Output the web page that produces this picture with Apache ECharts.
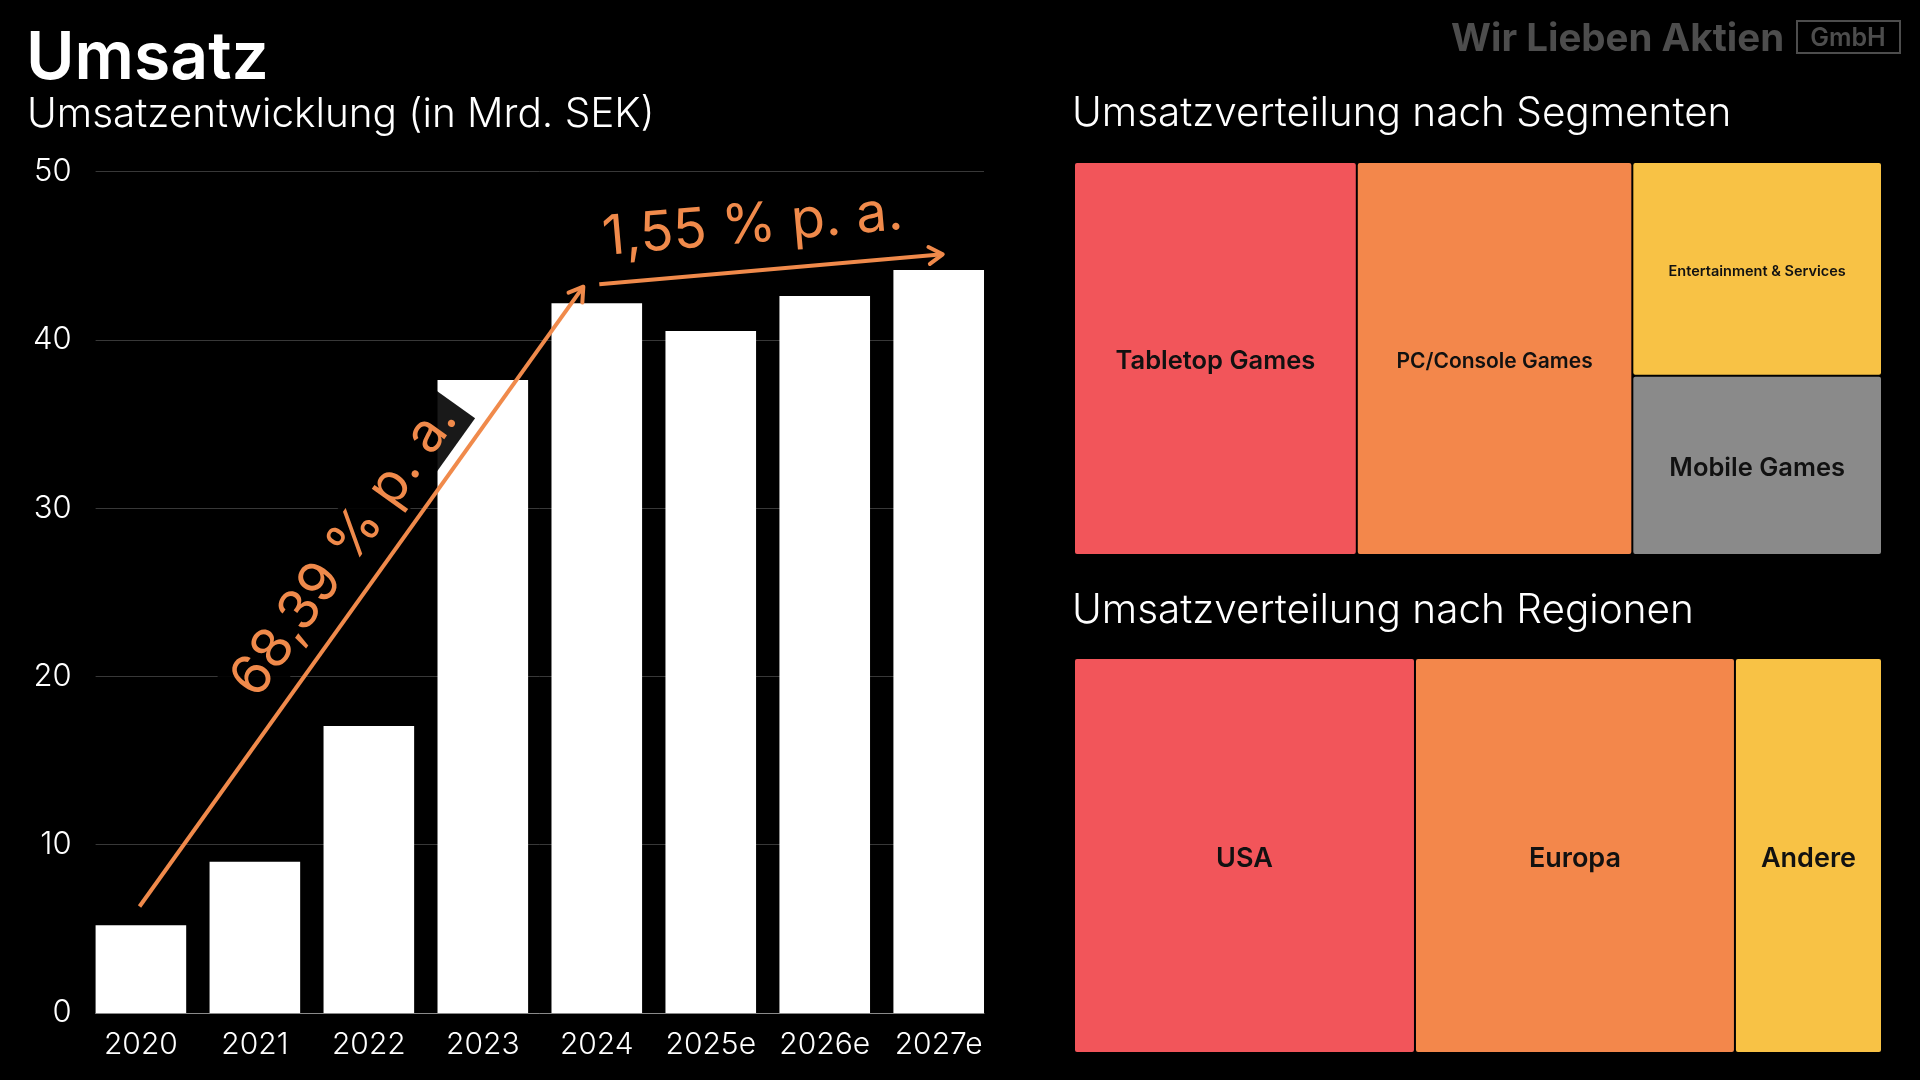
<!DOCTYPE html>
<html>
<head>
<meta charset="utf-8">
<script src="https://cdn.jsdelivr.net/npm/echarts@6/dist/echarts.min.js"></script>
<style>
html,body{margin:0;padding:0;background:#000;}
#chart{width:1920px;height:1080px;}
</style>
</head>
<body>
<div id="chart"></div>
<script>
// ---- data ----
const categories = ['2020', '2021', '2022', '2023', '2024', '2025e', '2026e', '2027e'];
const revenue = [5.21, 8.99, 17.05, 37.62, 42.18, 40.53, 42.61, 44.16];
const yMin = 0, yMax = 50, yInterval = 10;

const segmentNames = ['Tabletop Games', 'PC/Console Games', 'Entertainment & Services', 'Mobile Games'];
const segmentShares = [35.0, 34.1, 16.8, 14.1];

const regionNames = ['USA', 'Europa', 'Andere'];
const regionShares = [42.2, 39.6, 18.2];

// growth annotations (category-index / value units)
const growthLabels = ['68,39 % p. a.', '1,55 % p. a.'];
const arrowStart = [[-0.012, 6.33], [4.022, 43.31]];
const arrowEnd = [[3.882, 43.17], [7.035, 45.09]];
const labelPos = [[1.787, 27.52], [5.367, 46.8]];

// ---- styles ----
const FONT = 'Inter, "Noto Sans", sans-serif';
const ORANGE = '#F08A4B';
const segmentColors = ['#F2555A', '#F3874B', '#F8C245', '#8A8A8A'];
const segmentFont = [25.5, 21, 14.5, 25.5];
const regionColors = ['#F2555A', '#F3874B', '#F8C245'];
const regionFont = [27, 27, 27];

const annotationData = growthLabels.map((t, i) => [
  arrowStart[i][0], arrowStart[i][1], arrowEnd[i][0], arrowEnd[i][1], labelPos[i][0], labelPos[i][1]
]);

const chart = echarts.init(document.getElementById('chart'), null, {renderer: 'canvas'});

function treemapSeries(names, values, colors, fonts, box) {
  return {
    type: 'treemap',
    left: box.left, top: box.top, width: box.width, height: box.height,
    roam: false, nodeClick: false, silent: true,
    breadcrumb: {show: false},
    squareRatio: 1,
    itemStyle: {gapWidth: 2, borderWidth: 0, borderColor: '#000', borderRadius: 2},
    label: {show: true, position: 'inside', color: '#111', fontFamily: FONT, fontWeight: 600, offset: [0, 3]},
    upperLabel: {show: false},
    data: names.map((n, i) => ({
      name: n, value: values[i],
      itemStyle: {color: colors[i]},
      label: {fontSize: fonts[i]}
    }))
  };
}

const option = {
  backgroundColor: '#000',
  animation: false,
  grid: [
    {left: 95.6, right: 936, top: 171.7, bottom: 67},
    {left: 83.9, right: 924.3, top: 171.7, bottom: 67}
  ],
  xAxis: [{
    gridIndex: 0, type: 'value', min: 0, max: 1,
    axisLine: {show: true, lineStyle: {color: '#8a8a8a', width: 1}},
    axisTick: {show: false}, axisLabel: {show: false}, splitLine: {show: false}
  }, {
    gridIndex: 1, type: 'category', data: categories,
    axisLine: {show: false},
    axisTick: {show: false},
    axisLabel: {color: '#fff', fontSize: 30, fontFamily: FONT, fontWeight: 300, margin: 17, interval: 0}
  }, {
    gridIndex: 1, type: 'value', min: -0.5, max: 7.5, show: false
  }],
  yAxis: [{
    gridIndex: 0, type: 'value', min: yMin, max: yMax, interval: yInterval,
    axisLine: {show: false}, axisTick: {show: false},
    splitLine: {lineStyle: {color: '#383838', width: 1}},
    axisLabel: {color: '#fff', fontSize: 31, fontFamily: FONT, fontWeight: 300, margin: 24}
  }, {
    gridIndex: 1, type: 'value', min: yMin, max: yMax, interval: yInterval, show: false,
    splitLine: {show: false}
  }],
  series: [
    {
      type: 'bar', data: revenue, xAxisIndex: 1, yAxisIndex: 1, barWidth: 90.6,
      itemStyle: {color: '#fff'}, z: 2, silent: true
    },
    {
      type: 'custom', xAxisIndex: 2, yAxisIndex: 1, z: 5, clip: false, silent: true,
      encode: {x: [0, 2, 4], y: [1, 3, 5]},
      data: annotationData,
      renderItem: function (params, api) {
        const p1 = api.coord([api.value(0), api.value(1)]);
        const p2 = api.coord([api.value(2), api.value(3)]);
        const tp = api.coord([api.value(4), api.value(5)]);
        const ang = Math.atan2(p2[1] - p1[1], p2[0] - p1[0]);
        const head = 16, spread = 32 * Math.PI / 180;
        const a1 = [p2[0] - head * Math.cos(ang - spread), p2[1] - head * Math.sin(ang - spread)];
        const a2 = [p2[0] - head * Math.cos(ang + spread), p2[1] - head * Math.sin(ang + spread)];
        return {
          type: 'group',
          children: [
            {
              type: 'text', x: tp[0], y: tp[1], rotation: -ang,
              style: {
                text: growthLabels[params.dataIndex], fill: ORANGE,
                fontSize: 55, fontFamily: FONT, fontWeight: 400,
                align: 'center', verticalAlign: 'middle',
                backgroundColor: params.dataIndex === 0 ? 'rgba(0,0,0,0.9)' : 'transparent',
                padding: [2, 10]
              }
            },
            {
              type: 'line',
              shape: {x1: p1[0], y1: p1[1], x2: p2[0], y2: p2[1]},
              style: {stroke: ORANGE, lineWidth: 4}
            },
            {
              type: 'polyline',
              shape: {points: [a1, p2, a2]},
              style: {stroke: ORANGE, lineWidth: 4, fill: null, lineJoin: 'round', lineCap: 'round'}
            }
          ]
        };
      }
    },
    treemapSeries(segmentNames, segmentShares, segmentColors, segmentFont, {left: 1075, top: 163, width: 806, height: 391}),
    treemapSeries(regionNames, regionShares, regionColors, regionFont, {left: 1075, top: 659, width: 806, height: 393})
  ],
  graphic: [
    {type: 'text', x: 26, y: 59, style: {text: 'Umsatz', fill: '#fff', fontSize: 66, fontWeight: 600, fontFamily: FONT, align: 'left', verticalAlign: 'middle'}},
    {type: 'text', x: 27, y: 115, style: {text: 'Umsatzentwicklung (in Mrd. SEK)', fill: '#fff', fontSize: 40.5, fontWeight: 300, fontFamily: FONT, align: 'left', verticalAlign: 'middle'}},
    {type: 'text', x: 1072, y: 114, style: {text: 'Umsatzverteilung nach Segmenten', fill: '#fff', fontSize: 40.5, fontWeight: 300, fontFamily: FONT, align: 'left', verticalAlign: 'middle'}},
    {type: 'text', x: 1072, y: 611, style: {text: 'Umsatzverteilung nach Regionen', fill: '#fff', fontSize: 40.5, fontWeight: 300, fontFamily: FONT, align: 'left', verticalAlign: 'middle'}},
    {type: 'text', x: 1451, y: 39, style: {text: 'Wir Lieben Aktien', fill: '#4d4d4d', fontSize: 38.5, fontWeight: 700, fontFamily: FONT, align: 'left', verticalAlign: 'middle'}},
    {type: 'rect', shape: {x: 1797, y: 21, width: 103, height: 32}, style: {fill: 'none', stroke: '#4d4d4d', lineWidth: 2}},
    {type: 'text', x: 1848, y: 38, style: {text: 'GmbH', fill: '#4d4d4d', fontSize: 25, fontWeight: 600, fontFamily: FONT, align: 'center', verticalAlign: 'middle'}}
  ]
};

chart.setOption(option);
</script>
</body>
</html>
